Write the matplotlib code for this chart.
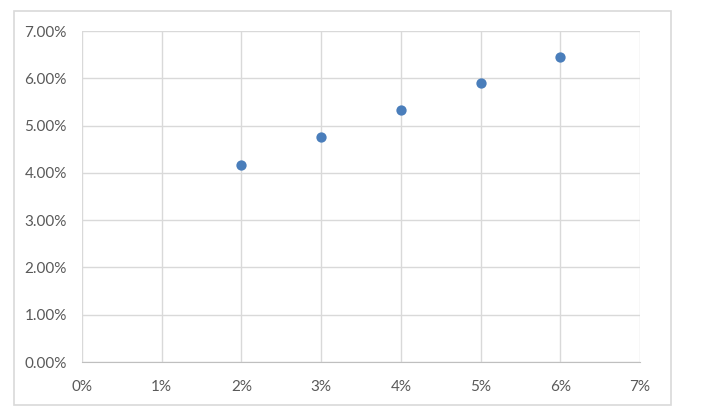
import matplotlib.pyplot as plt
from matplotlib.patches import Rectangle
from matplotlib.ticker import FuncFormatter, MultipleLocator

# data
x_vals = [0.02, 0.03, 0.04, 0.05, 0.06]
y_vals = [0.0417, 0.0475, 0.0532, 0.0589, 0.0646]

plt.rcParams['font.family'] = ['Lato', 'DejaVu Sans']

fig = plt.figure(figsize=(7.03, 4.12), dpi=100)
W, H = 703, 412
ax = fig.add_axes([82 / W, 1 - 362 / H, (640 - 82) / W, (362 - 31) / H])

# chart border
fig.patches.append(Rectangle((14 / W, 1 - 405 / H), (671 - 14) / W, (405 - 11) / H,
                             transform=fig.transFigure, fill=False,
                             edgecolor='#D9D9D9', linewidth=1.2))

ax.scatter(x_vals, y_vals, s=55, color='#4A7EBB', zorder=3, linewidths=0)

ax.set_xlim(0, 0.07)
ax.set_ylim(0, 0.07)
ax.xaxis.set_major_locator(MultipleLocator(0.01))
ax.yaxis.set_major_locator(MultipleLocator(0.01))
ax.xaxis.set_major_formatter(FuncFormatter(lambda v, p: f"{v*100:.0f}%"))
ax.yaxis.set_major_formatter(FuncFormatter(lambda v, p: f"{v*100:.2f}%"))

ax.grid(True, color='#D9D9D9', linewidth=1)
ax.set_axisbelow(True)
for s in ['top', 'right', 'left']:
    ax.spines[s].set_visible(False)
ax.spines['bottom'].set_color('#BFBFBF')
ax.tick_params(length=0, labelsize=11, colors='#595959')
ax.tick_params(axis='y', pad=11)
ax.tick_params(axis='x', pad=13)

fig.savefig("out.png", dpi=100)
